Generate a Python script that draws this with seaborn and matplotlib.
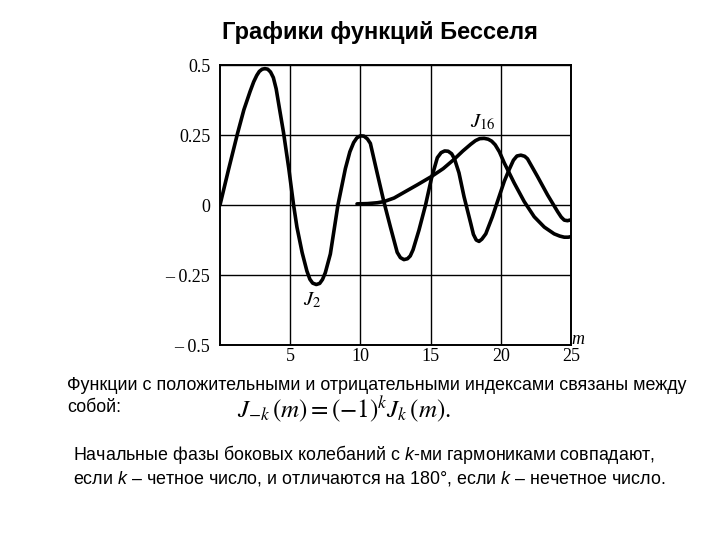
import matplotlib
matplotlib.use('Agg')
import matplotlib.pyplot as plt
import seaborn as sns
import pandas as pd

# J2(m)
j2_m = [0.0, 0.6, 1.24, 1.7, 2.14, 2.4, 2.62, 2.8, 3.0, 3.2, 3.4, 3.6, 3.8, 4.0,
        4.25, 4.52, 4.9, 5.24, 5.48, 5.85, 6.19, 6.4, 6.6, 6.86, 7.1, 7.3, 7.5,
        7.86, 8.4, 8.93, 9.25, 9.52, 9.75, 10.0, 10.25, 10.5, 10.71, 11.19, 11.67,
        12.14, 12.62, 12.85, 13.1, 13.35, 13.55, 13.75, 14.17, 14.64, 15.07, 15.48,
        15.75, 16.0, 16.25, 16.5, 16.7, 17.02, 17.38, 17.86, 18.05, 18.25, 18.45,
        18.65, 18.93, 19.4, 19.88, 20.25, 20.6, 20.9, 21.15, 21.43, 21.7, 21.9,
        22.6, 23.33, 24.05, 24.3, 24.52, 24.75, 25.0]
j2_val = [0.0, 0.125, 0.254, 0.34, 0.405, 0.44, 0.463, 0.477, 0.485, 0.487, 0.485,
          0.475, 0.455, 0.415, 0.34, 0.26, 0.13, 0.0, -0.079, -0.17, -0.236, -0.265,
          -0.279, -0.284, -0.28, -0.266, -0.242, -0.175, 0.0, 0.13, 0.19, 0.223,
          0.24, 0.247, 0.246, 0.236, 0.22, 0.115, 0.012, -0.079, -0.169, -0.188,
          -0.195, -0.192, -0.182, -0.16, -0.09, 0.0, 0.097, 0.169, 0.187, 0.193,
          0.192, 0.183, 0.165, 0.115, 0.03, -0.066, -0.105, -0.125, -0.13, -0.122,
          -0.103, -0.042, 0.03, 0.085, 0.127, 0.16, 0.175, 0.178, 0.174, 0.165,
          0.103, 0.036, -0.024, -0.043, -0.054, -0.056, -0.053]

# J16(m)
j16_m = [9.76, 10.5, 11.2, 11.67, 12.4, 13.1, 14.05, 15.07, 15.9, 16.67, 17.3,
         17.86, 18.2, 18.5, 18.81, 19.1, 19.35, 19.6, 19.9, 20.24, 20.95, 21.67,
         22.38, 23.1, 23.8, 24.2, 24.52, 24.8, 25.0]
j16_val = [0.004, 0.005, 0.008, 0.012, 0.025, 0.045, 0.072, 0.102, 0.13, 0.163,
           0.193, 0.217, 0.23, 0.237, 0.238, 0.235, 0.228, 0.215, 0.19, 0.151,
           0.079, 0.012, -0.042, -0.079, -0.103, -0.111, -0.115, -0.115, -0.113]

x_ticks = [5, 10, 15, 20, 25]
y_ticks = [0.5, 0.25, 0, -0.25, -0.5]
y_tick_labels = ['0.5', '0.25', '0', '\u2013 0.25', '\u2013 0.5']

df = pd.concat([
    pd.DataFrame({'m': j2_m, 'J': j2_val, 'func': 'J2'}),
    pd.DataFrame({'m': j16_m, 'J': j16_val, 'func': 'J16'}),
])

sns.set_style('white')
plt.rcParams['font.family'] = ['Liberation Sans', 'DejaVu Sans']
plt.rcParams['text.color'] = 'black'
plt.rcParams['xtick.color'] = 'black'
plt.rcParams['ytick.color'] = 'black'
plt.rcParams['mathtext.fontset'] = 'custom'
plt.rcParams['mathtext.rm'] = 'Liberation Sans'
plt.rcParams['mathtext.it'] = 'Liberation Sans:italic'

fig = plt.figure(figsize=(7.2, 5.4), dpi=100)
ax = fig.add_axes([220 / 720, 1 - 345 / 540, 351 / 720, 280 / 540])

sns.lineplot(data=df, x='m', y='J', hue='func', palette=['black', 'black'],
             estimator=None, legend=False, linewidth=2.6, ax=ax,
             solid_joinstyle='round', solid_capstyle='round')

ax.set_xlim(0, 25)
ax.set_ylim(-0.5, 0.5)
ax.set_xticks(x_ticks)
ax.set_xticklabels([str(t) for t in x_ticks])
ax.set_yticks(y_ticks)
ax.set_yticklabels(y_tick_labels)
ax.set_xlabel('')
ax.set_ylabel('')
ax.grid(True, color='black', linewidth=1.0)
for s in ax.spines.values():
    s.set_color('black')
    s.set_linewidth(1.4)
ax.tick_params(axis='both', length=0, labelsize=13)
ax.tick_params(axis='y', pad=7)
ax.tick_params(axis='x', pad=2)
for lbl in ax.get_xticklabels() + ax.get_yticklabels():
    lbl.set_fontfamily('Liberation Serif')

# curve labels
ax.text(6.6, -0.34, r'$J_2$', math_fontfamily='stix', fontsize=15,
        ha='center', va='center')
ax.text(18.7, 0.296, r'$J_{16}$', math_fontfamily='stix', fontsize=15,
        ha='center', va='center')
fig.text(578 / 720, 1 - 340 / 540, 'm', fontfamily='Liberation Serif',
         style='italic', fontsize=13, ha='center', va='center')

fig.text(0.527, 1 - 33 / 540, 'Графики функций Бесселя', ha='center', va='center',
         fontsize=17, fontweight='bold')

fig.text(67 / 720, 1 - 385 / 540,
         'Функции с положительными и отрицательными индексами связаны между',
         va='center', fontsize=12.9)
fig.text(67 / 720, 1 - 408 / 540, 'собой:', va='center', fontsize=12.9)
fig.text(237 / 720, 1 - 410 / 540, r'$J_{-k}\,(m) = (-1)^{k} J_{k}\,(m).$',
         math_fontfamily='stix', va='center', fontsize=18)

fig.text(73 / 720, 1 - 455 / 540,
         'Начальные фазы боковых колебаний с $k$-ми гармониками совпадают,',
         va='center', fontsize=12.9)
fig.text(73 / 720, 1 - 478 / 540,
         'если $k$ \u2013 четное число, и отличаются на 180°, если $k$ \u2013 нечетное число.',
         va='center', fontsize=12.9)

fig.savefig('out.png', dpi=100)
